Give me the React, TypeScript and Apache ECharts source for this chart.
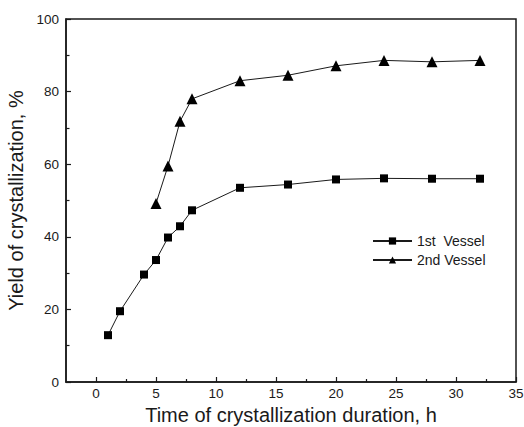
import React, { useEffect, useRef } from "react";
import * as echarts from "echarts";

const xTicks = [0, 5, 10, 15, 20, 25, 30, 35];
const xMinorTicks = [2.5, 7.5, 12.5, 17.5, 22.5, 27.5, 32.5];
const yTicks = [0, 20, 40, 60, 80, 100];
const yMinorTicks = [10, 30, 50, 70, 90];

const vessel1Time = [1, 2, 4, 5, 6, 7, 8, 12, 16, 20, 24, 28, 32];
const vessel1Yield = [12.9, 19.5, 29.6, 33.6, 39.8, 42.9, 47.3, 53.5, 54.4, 55.8, 56.1, 56.0, 56.0];
const vessel2Time = [5, 6, 7, 8, 12, 16, 20, 24, 28, 32];
const vessel2Yield = [49.2, 59.5, 71.8, 78.0, 83.0, 84.5, 87.1, 88.6, 88.2, 88.6];

const FONT = "'Liberation Sans', Arial, sans-serif";
const INK = "#1a1a1a";

export default function App() {
  const ref = useRef<HTMLDivElement>(null);
  useEffect(() => {
    if (!ref.current) return;
    document.body.style.margin = "0";
    document.body.style.overflow = "hidden";
    const chart = echarts.init(ref.current, undefined, { renderer: "svg" });
    const pair = (xs: number[], ys: number[]) => xs.map((x, i) => [x, ys[i]]);
    chart.setOption({
      animation: false,
      textStyle: { fontFamily: FONT, color: INK },
      grid: {
        left: 66,
        top: 19,
        right: 8,
        bottom: 45,
        show: true,
        borderColor: INK,
        borderWidth: 1.5,
        backgroundColor: "transparent",
        outerBoundsMode: "none",
        containLabel: false,
      },
      legend: {
        orient: "vertical",
        left: 372,
        top: 234,
        padding: 0,
        itemWidth: 39,
        itemHeight: 9,
        itemGap: 5,
        textStyle: { fontFamily: FONT, fontSize: 14, color: INK },
        data: ["1st  Vessel", "2nd Vessel"],
      },
      xAxis: [
        {
          type: "value",
          min: -2.5,
          max: 35,
          splitLine: { show: false },
          axisLine: { show: true, onZero: false, lineStyle: { color: INK, width: 1.5 } },
          axisTick: { show: true, inside: true, length: 5, customValues: xTicks, lineStyle: { color: INK, width: 1.2 } },
          axisLabel: { customValues: xTicks, fontSize: 13.5, color: INK, margin: 4, fontFamily: FONT },
          name: "Time of crystallization duration, h",
          nameLocation: "middle",
          nameGap: 22,
          nameTextStyle: { fontSize: 20, color: INK, fontFamily: FONT },
        },
        {
          type: "value",
          min: -2.5,
          max: 35,
          position: "bottom",
          splitLine: { show: false },
          axisLine: { show: false, onZero: false },
          axisTick: { show: true, inside: true, length: 3, customValues: xMinorTicks, lineStyle: { color: INK, width: 1.2 } },
          axisLabel: { show: false },
        },
      ],
      yAxis: [
        {
          type: "value",
          min: 0,
          max: 100,
          splitLine: { show: false },
          axisLine: { show: true, onZero: false, lineStyle: { color: INK, width: 1.5 } },
          axisTick: { show: true, inside: true, length: 5, customValues: yTicks, lineStyle: { color: INK, width: 1.2 } },
          axisLabel: { customValues: yTicks, fontSize: 13.5, color: INK, margin: 7, fontFamily: FONT },
          name: "Yield of crystallization, %",
          nameLocation: "middle",
          nameGap: 32,
          nameTextStyle: { fontSize: 20, color: INK, fontFamily: FONT },
        },
        {
          type: "value",
          min: 0,
          max: 100,
          position: "left",
          splitLine: { show: false },
          axisLine: { show: false, onZero: false },
          axisTick: { show: true, inside: true, length: 3.5, customValues: yMinorTicks, lineStyle: { color: INK, width: 1.2 } },
          axisLabel: { show: false },
        },
      ],
      series: [
        {
          name: "1st  Vessel",
          type: "line",
          xAxisIndex: 0,
          yAxisIndex: 0,
          data: pair(vessel1Time, vessel1Yield),
          symbol: "rect",
          symbolSize: 8,
          showAllSymbol: true,
          itemStyle: { color: "#000" },
          lineStyle: { color: INK, width: 1 },
        },
        {
          name: "2nd Vessel",
          type: "line",
          xAxisIndex: 0,
          yAxisIndex: 0,
          data: pair(vessel2Time, vessel2Yield),
          symbol: "triangle",
          symbolSize: 11,
          showAllSymbol: true,
          itemStyle: { color: "#000" },
          lineStyle: { color: INK, width: 1 },
        },
      ],
    });
    return () => chart.dispose();
  }, []);
  return (
    <div
      ref={ref}
      style={{ position: "absolute", left: 0, top: 0, width: 524, height: 427 }}
    />
  );
}
